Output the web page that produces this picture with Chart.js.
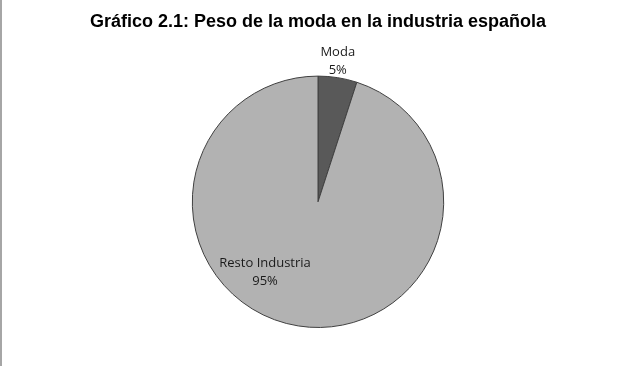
<!DOCTYPE html>
<html>
<head>
<meta charset="utf-8">
<script src="https://cdn.jsdelivr.net/npm/chart.js@4"></script>
<style>
  html, body { margin: 0; padding: 0; background: #fff; }
  #wrap { position: relative; width: 636px; height: 366px; }
  #edge { position: absolute; left: 0; top: 0; width: 2px; height: 366px; background: #a6a6a6; }
</style>
</head>
<body>
<div id="wrap">
  <canvas id="pieChart" width="636" height="366"></canvas>
  <div id="edge"></div>
</div>
<script>
const categories = ['Moda', 'Resto Industria'];
const shares = [5, 95];
const pctLabels = ['5%', '95%'];
const sliceColors = ['#595959', '#b2b2b2'];

// where each label sits: angle (deg, 0 = right, clockwise) and distance as fraction of radius
const labelSpots = [
  { angle: -82, dist: 1.13 },
  { angle: 127, dist: 0.70 }
];

const pieLabels = {
  id: 'pieLabels',
  afterDatasetsDraw(chart) {
    const ctx = chart.ctx;
    const meta = chart.getDatasetMeta(0);
    ctx.save();
    ctx.font = '13px "Open Sans", "Noto Sans", sans-serif';
    ctx.fillStyle = '#1a1a1a';
    ctx.textAlign = 'center';
    ctx.textBaseline = 'middle';
    meta.data.forEach((arc, i) => {
      const spot = labelSpots[i];
      const a = spot.angle * Math.PI / 180;
      const x = arc.x + Math.cos(a) * arc.outerRadius * spot.dist;
      const y = arc.y + Math.sin(a) * arc.outerRadius * spot.dist;
      ctx.fillText(categories[i], x, y - 9);
      ctx.fillText(pctLabels[i], x, y + 9);
    });
    ctx.restore();
  }
};

new Chart(document.getElementById('pieChart').getContext('2d'), {
  type: 'pie',
  data: {
    labels: categories,
    datasets: [{
      data: shares,
      backgroundColor: sliceColors,
      borderColor: '#404040',
      borderWidth: 1
    }]
  },
  options: {
    responsive: false,
    animation: false,
    layout: { padding: { top: 0, bottom: 38, left: 0, right: 0 } },
    plugins: {
      legend: { display: false },
      tooltip: { enabled: false },
      title: {
        display: true,
        text: 'Gráfico 2.1: Peso de la moda en la industria española',
        color: '#000',
        font: { family: '"Liberation Sans", Arial, sans-serif', size: 18, weight: 'bold' },
        padding: { top: 11, bottom: 43 }
      }
    }
  },
  plugins: [pieLabels]
});
</script>
</body>
</html>
